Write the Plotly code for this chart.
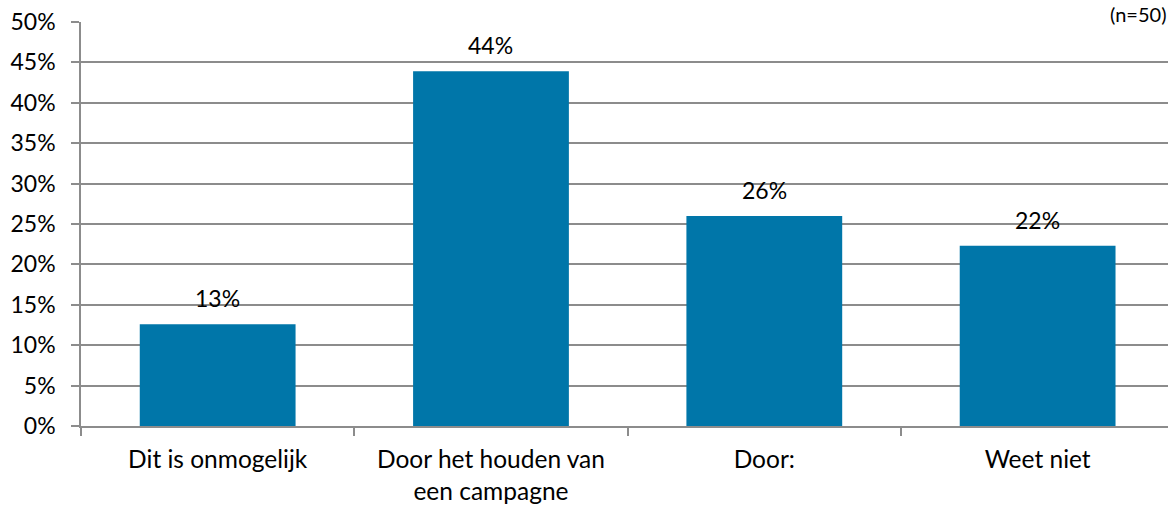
import plotly.graph_objects as go

categories = ["Dit is onmogelijk", "Door het houden van<br>een campagne", "Door:", "Weet niet"]
values = [12.6, 43.9, 26.0, 22.3]
labels = ["13%", "44%", "26%", "22%"]
yticks = [0, 5, 10, 15, 20, 25, 30, 35, 40, 45, 50]
ytick_text = [f"{v}%" for v in yticks]

FONT = "Lato"
FS = 23
GRID = "#8c8c8c"

fig = go.Figure()
fig.add_trace(go.Bar(x=categories, y=values, marker=dict(color="#0076A9", line=dict(width=0)),
                     width=0.57, hoverinfo="skip"))

for c, v, t in zip(categories, values, labels):
    fig.add_annotation(x=c, y=v, text=t, showarrow=False, yanchor="middle", yshift=26,
                       font=dict(family=FONT, size=FS, color="#000000"))

W, H = 1168, 505
L, R, T, B = 81, 0, 22, 79
PH = H - T - B
fig.add_annotation(xref="paper", yref="paper", x=1.0, y=1 + T / PH,
                   xanchor="right", yanchor="top", text="(n=50)", showarrow=False,
                   font=dict(family=FONT, size=FS - 3, color="#000000"))

fig.update_layout(
    width=W, height=H,
    margin=dict(l=L, r=R, t=T, b=B, autoexpand=False),
    paper_bgcolor="white", plot_bgcolor="white",
    showlegend=False,
    font=dict(family=FONT, size=FS, color="#000000"),
    xaxis=dict(type="category", range=[-0.5, 3.477], showgrid=False, automargin=False,
               showline=True, linecolor=GRID, linewidth=1.5,
               ticks="outside", tickson="boundaries", ticklen=8, tickcolor=GRID, tickwidth=1.5,
               tickfont=dict(family=FONT, size=24.5, color="#000000"), ticklabelstandoff=11),
    yaxis=dict(range=[0, 50], tickvals=yticks, ticktext=ytick_text, automargin=False,
               showgrid=True, gridcolor=GRID, gridwidth=1.5, zeroline=False,
               showline=True, linecolor=GRID, linewidth=1.5,
               ticks="outside", ticklen=8, tickcolor=GRID, tickwidth=1.5,
               tickfont=dict(family=FONT, size=FS, color="#000000"), ticklabelstandoff=11),
    bargap=0.43,
)

fig.write_html("out.html", config={"displayModeBar": False},
               post_script="document.body.style.margin='0';")
